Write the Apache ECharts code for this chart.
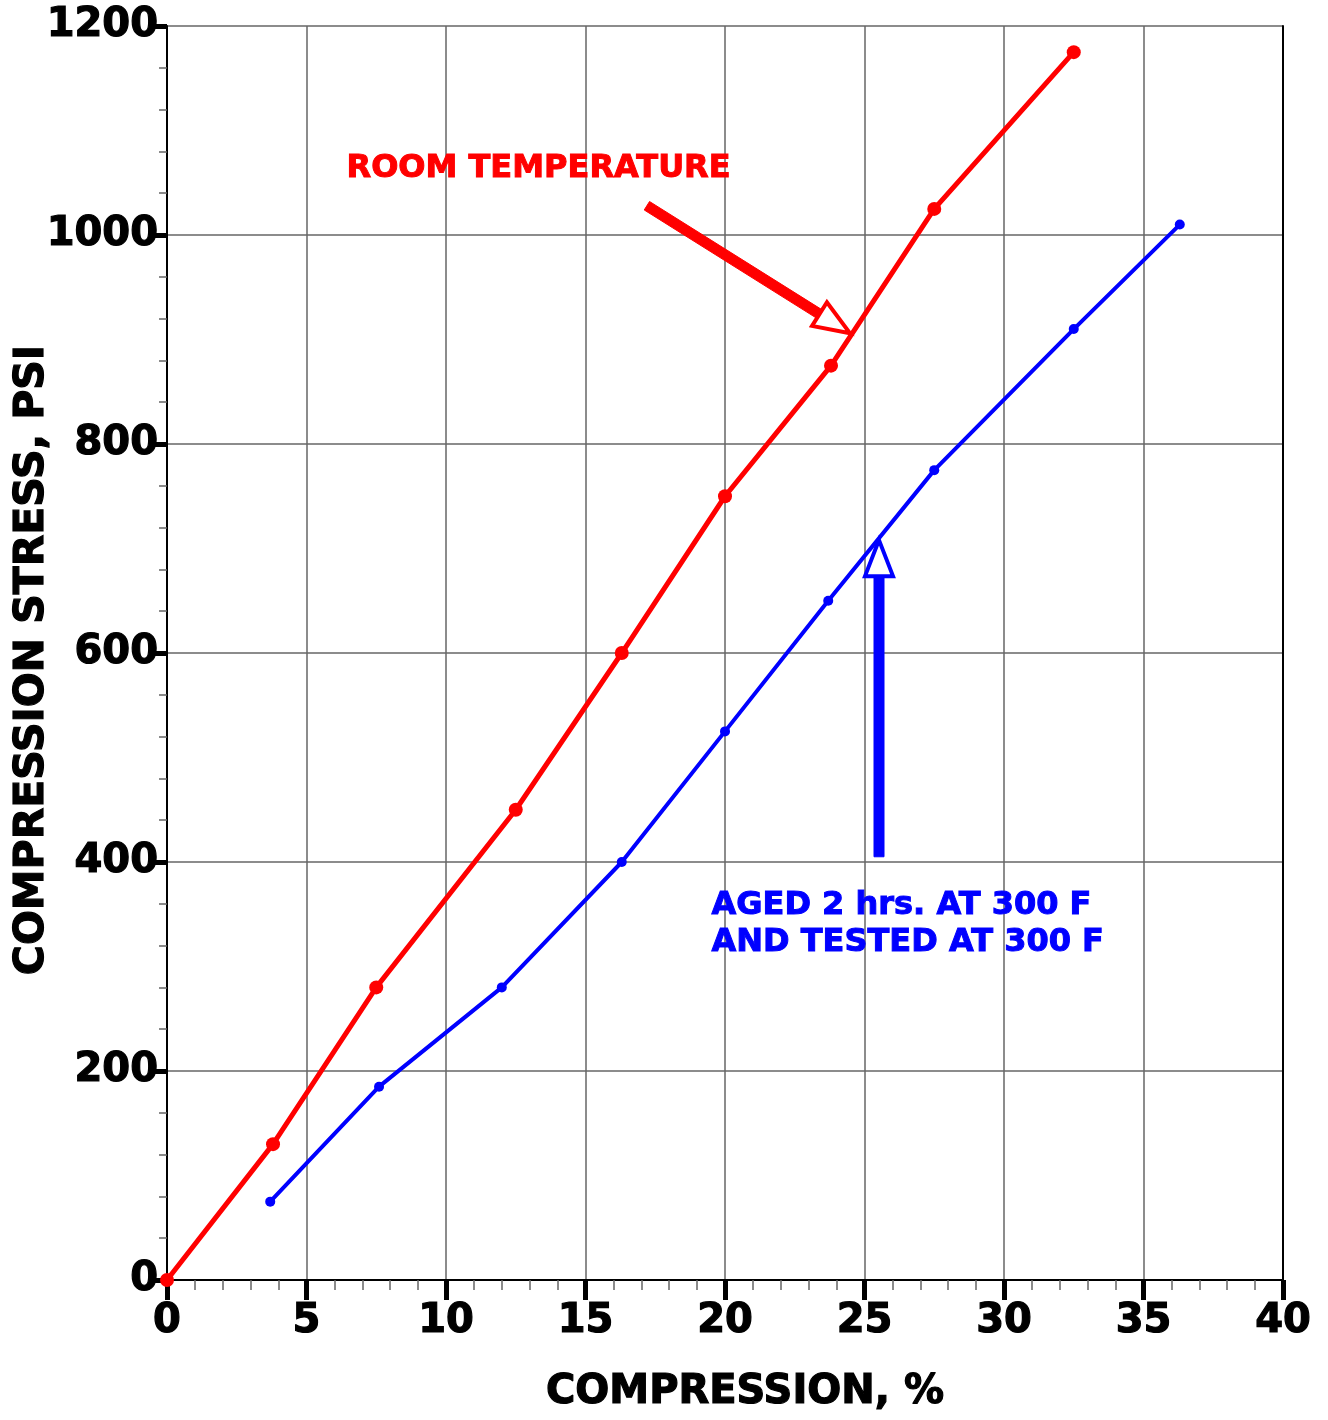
<!DOCTYPE html>
<html>
<head>
<meta charset="utf-8">
<script src="https://cdn.jsdelivr.net/npm/echarts@6/dist/echarts.min.js"></script>
<style>
  html, body { margin: 0; padding: 0; background: #fff; }
  #chart { width: 1328px; height: 1420px; }
</style>
</head>
<body>
<div id="chart"></div>
<script>
// Compression (%) vs compression stress (psi)
const roomTempCompression = [0, 3.8, 7.5, 12.5, 16.3, 20.0, 23.8, 27.5, 32.5];
const roomTempStress      = [0, 130, 280, 450, 600, 750, 875, 1025, 1175];

const agedCompression = [3.7, 7.6, 12.0, 16.3, 20.0, 23.7, 27.5, 32.5, 36.3];
const agedStress      = [75, 185, 280, 400, 525, 650, 775, 910, 1010];

// Callout arrows: [tailX, tailY, tipX, tipY] in data units
const roomTempArrow = [17.2, 1028, 24.48, 906];
const agedArrow     = [25.52, 405, 25.52, 708];

const roomTempLabel = 'ROOM TEMPERATURE';
const agedLabelLines = ['AGED 2 hrs. AT 300 F', 'AND TESTED AT 300 F'];

const xTitle = 'COMPRESSION, %';
const yTitle = 'COMPRESSION STRESS, PSI';

const FONT = 'DejaVu Sans';
const RED = '#ff0000';
const BLUE = '#0000ff';

function pairs(xs, ys) { return xs.map((x, i) => [x, ys[i]]); }

function renderArrow(params, api) {
  const p0 = api.coord([api.value(0), api.value(1)]);
  const p1 = api.coord([api.value(2), api.value(3)]);
  const color = api.visual('color');
  let dx = p1[0] - p0[0], dy = p1[1] - p0[1];
  const L = Math.sqrt(dx * dx + dy * dy);
  dx /= L; dy /= L;
  const px = -dy, py = dx;
  const headLen = 36, headHalf = 14, shaftHalf = 5;
  const bx = p1[0] - dx * headLen, by = p1[1] - dy * headLen;
  return {
    type: 'group',
    children: [
      {
        type: 'polygon',
        shape: { points: [
          [p0[0] + px * shaftHalf, p0[1] + py * shaftHalf],
          [bx + px * shaftHalf, by + py * shaftHalf],
          [bx - px * shaftHalf, by - py * shaftHalf],
          [p0[0] - px * shaftHalf, p0[1] - py * shaftHalf]
        ] },
        style: { fill: color, stroke: color, lineWidth: 1 }
      },
      {
        type: 'polygon',
        shape: { points: [
          [p1[0], p1[1]],
          [bx + px * headHalf, by + py * headHalf],
          [bx - px * headHalf, by - py * headHalf]
        ] },
        style: { fill: '#ffffff', stroke: color, lineWidth: 4, lineJoin: 'miter' }
      }
    ]
  };
}

const heavy = (size, color) => ({
  fontFamily: FONT, fontWeight: 'bold', fontSize: size, color: color,
  textBorderColor: color, textBorderWidth: 1.2
});

const chart = echarts.init(document.getElementById('chart'), null, { renderer: 'canvas' });

chart.setOption({
  animation: false,
  backgroundColor: '#ffffff',
  grid: { left: 167, right: 45, top: 26, bottom: 140, containLabel: false, outerBoundsMode: 'none' },
  xAxis: {
    type: 'value',
    min: 0, max: 40, interval: 5,
    name: xTitle,
    nameLocation: 'middle',
    nameGap: 93,
    nameMoveOverlap: false,
    nameTextStyle: Object.assign({ padding: [0, 0, 0, 40] }, heavy(40, '#000')),
    axisLine: { show: true, onZero: false, lineStyle: { color: '#000', width: 2 } },
    axisTick: { show: true, length: 20, lineStyle: { color: '#000', width: 5 } },
    minorTick: { show: true, splitNumber: 5, length: 10, lineStyle: { color: '#666', width: 1.5 } },
    axisLabel: Object.assign({ margin: 22, formatter: v => String(v) }, heavy(40, '#000')),
    splitLine: { show: true, lineStyle: { color: '#666', width: 1.5 } }
  },
  yAxis: [
    {
      type: 'value',
      min: 0, max: 1200, interval: 200,
      name: yTitle,
      nameLocation: 'middle',
      nameGap: 114,
      nameMoveOverlap: false,
      nameRotate: 90,
      nameTextStyle: Object.assign({ padding: [0, 14, 0, 0] }, heavy(41, '#000')),
      axisLine: { show: true, onZero: false, lineStyle: { color: '#000', width: 2 } },
      axisTick: { show: true, length: 15, lineStyle: { color: '#000', width: 5 } },
      minorTick: { show: true, splitNumber: 5, length: 8, lineStyle: { color: '#666', width: 1.5 } },
      axisLabel: Object.assign({ margin: 9, formatter: v => String(v) }, heavy(40, '#000')),
      splitLine: { show: true, lineStyle: { color: '#666', width: 1.5 } }
    },
    {
      type: 'value',
      position: 'right',
      min: 0, max: 1200, interval: 200,
      axisLine: { show: true, onZero: false, lineStyle: { color: '#000', width: 2 } },
      axisTick: { show: false },
      axisLabel: { show: false },
      splitLine: { show: false }
    }
  ],
  series: [
    {
      type: 'custom',
      name: 'room-temp-arrow',
      renderItem: renderArrow,
      data: [roomTempArrow],
      encode: { x: [0, 2], y: [1, 3] },
      itemStyle: { color: RED },
      clip: false,
      z: 1,
      silent: true
    },
    {
      type: 'custom',
      name: 'aged-arrow',
      renderItem: renderArrow,
      data: [agedArrow],
      encode: { x: [0, 2], y: [1, 3] },
      itemStyle: { color: BLUE },
      clip: false,
      z: 1,
      silent: true
    },
    {
      type: 'line',
      name: 'Room temperature',
      data: pairs(roomTempCompression, roomTempStress),
      symbol: 'circle',
      symbolSize: 14,
      showAllSymbol: true,
      clip: false,
      lineStyle: { color: RED, width: 5 },
      itemStyle: { color: RED },
      z: 3
    },
    {
      type: 'line',
      name: 'Aged 2 hrs at 300 F',
      data: pairs(agedCompression, agedStress),
      symbol: 'circle',
      symbolSize: 10,
      showAllSymbol: true,
      clip: false,
      lineStyle: { color: BLUE, width: 4 },
      itemStyle: { color: BLUE },
      z: 3
    }
  ],
  graphic: [
    {
      type: 'text',
      left: 346,
      top: 152,
      z: 10,
      style: {
        text: roomTempLabel,
        fill: RED,
        stroke: RED,
        lineWidth: 1,
        font: 'bold 32px "' + FONT + '"'
      }
    },
    {
      type: 'text',
      left: 711,
      top: 887,
      z: 10,
      style: {
        text: agedLabelLines.join('\n'),
        fill: BLUE,
        stroke: BLUE,
        lineWidth: 1,
        lineHeight: 37,
        font: 'bold 32px "' + FONT + '"'
      }
    }
  ]
});
</script>
</body>
</html>
